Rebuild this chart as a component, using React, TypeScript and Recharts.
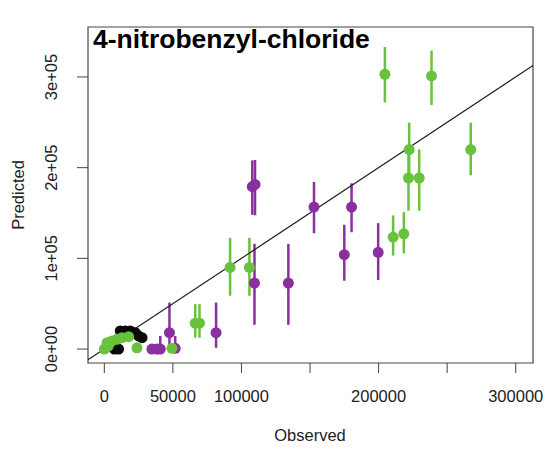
import React from 'react';
import { ScatterChart, Scatter, XAxis, YAxis, ErrorBar, ReferenceLine, ReferenceArea } from 'recharts';

// observed / predicted values with error bar extents (down, up)
const greenObs = [0, 2900, 2000, 5600, 9200, 12900, 17700, 23800, 49300, 66300, 69400, 91700, 105800, 204600, 238600, 222300, 221800, 229600, 267200, 210600, 218400];
const greenPred = [0, 3300, 7000, 8900, 10700, 12500, 13600, 1400, 800, 28500, 28500, 90000, 90000, 303000, 301200, 220000, 188600, 188600, 220000, 123300, 127000];
const greenDown = [2000, 2000, 2000, 2000, 2000, 2000, 2000, 2000, 3000, 16000, 16000, 31300, 31300, 31000, 32000, 28000, 36000, 36000, 28400, 20300, 21500];
const greenUp = [2000, 2000, 2000, 2000, 2000, 2000, 2000, 2000, 3000, 21000, 21000, 32600, 32600, 30000, 28000, 29500, 36000, 31400, 29500, 24000, 24000];

const purpleObs = [34700, 38400, 40800, 47500, 51700, 81500, 107900, 109900, 109500, 134200, 152900, 175000, 180300, 199700];
const purplePred = [0, 0, 0, 18000, 800, 18000, 179000, 181500, 72700, 72700, 156500, 104100, 156500, 106600];
const purpleDown = [2000, 2000, 2000, 18000, 800, 16600, 31000, 34000, 46000, 46000, 28800, 28800, 27700, 30500];
const purpleUp = [2000, 2000, 14400, 33300, 13600, 33300, 29000, 27000, 43300, 43300, 27700, 32900, 26200, 32200];

const blackObs = [11650, 15300, 18900, 22600, 25000, 27500, 10400, 7300];
const blackPred = [19900, 19900, 19900, 18000, 14400, 12500, 0, 0];
const blackErr = [2000, 2000, 2000, 2000, 2000, 2000, 2000, 2000];

const xTicks = [0, 50000, 100000, 150000, 200000, 250000, 300000];
const xHidden = [150000, 250000];
const yTicks = [0, 100000, 200000, 300000];
const yLabels = ['0e+00', '1e+05', '2e+05', '3e+05'];

const X_DOMAIN = [-11900, 312600];
const Y_DOMAIN = [-15400, 355100];

const GREEN = '#68c23e';
const PURPLE = '#8a2f9e';
const BLACK = '#0a0a0a';
const FONT = 'Liberation Sans, Arial, Helvetica, sans-serif';

const toPoints = (obs: number[], pred: number[], down: number[], up: number[]) =>
  obs.map((x, i) => ({ obs: x, pred: pred[i], err: [down[i], up[i]] }));

const greenData = toPoints(greenObs, greenPred, greenDown, greenUp);
const purpleData = toPoints(purpleObs, purplePred, purpleDown, purpleUp);
const blackData = toPoints(blackObs, blackPred, blackErr, blackErr);

const dot = (color: string) => (props: any) => (
  <circle cx={props.cx} cy={props.cy} r={5.5} fill={color} />
);

const YTick = (props: any) => {
  const { x, y, payload } = props;
  const idx = yTicks.indexOf(payload.value);
  return (
    <text
      transform={`translate(${x},${y}) rotate(-90)`}
      textAnchor="middle"
      fontSize={16.5}
      fontFamily={FONT}
      fill="#222"
    >
      {idx >= 0 ? yLabels[idx] : ''}
    </text>
  );
};

export default function App() {
  return (
    <div style={{ position: 'absolute', left: 0, top: 0, background: '#fff' }}>
      <ScatterChart width={549} height={450} margin={{ top: 27, right: 16, bottom: 0, left: 0 }}>
        <XAxis
          type="number"
          dataKey="obs"
          domain={X_DOMAIN}
          allowDataOverflow
          ticks={xTicks}
          interval={0}
          tickFormatter={(v: number) => (xHidden.includes(v) ? '' : String(v))}
          axisLine={false}
          tickLine={{ stroke: '#444' }}
          tickSize={10}
          tickMargin={17}
          height={87}
          tick={{ fontSize: 16.5, fontFamily: FONT, fill: '#222' }}
        />
        <YAxis
          type="number"
          dataKey="pred"
          domain={Y_DOMAIN}
          allowDataOverflow
          ticks={yTicks}
          interval={0}
          axisLine={false}
          tickLine={{ stroke: '#444' }}
          tickSize={11}
          tickMargin={20}
          width={88}
          tick={<YTick />}
        />
        <ReferenceArea
          x1={X_DOMAIN[0]}
          x2={X_DOMAIN[1]}
          y1={Y_DOMAIN[0]}
          y2={Y_DOMAIN[1]}
          fill="none"
          fillOpacity={0}
          stroke="#444"
          strokeWidth={1.2}
        />
        <Scatter data={purpleData} shape={dot(PURPLE)} isAnimationActive={false}>
          <ErrorBar dataKey="err" direction="y" width={0} stroke={PURPLE} strokeWidth={2.5} />
        </Scatter>
        <Scatter data={blackData} shape={dot(BLACK)} isAnimationActive={false}>
          <ErrorBar dataKey="err" direction="y" width={0} stroke={BLACK} strokeWidth={2.5} />
        </Scatter>
        <Scatter data={greenData} shape={dot(GREEN)} isAnimationActive={false}>
          <ErrorBar dataKey="err" direction="y" width={0} stroke={GREEN} strokeWidth={2.5} />
        </Scatter>
        <ReferenceLine
          segment={[
            { x: X_DOMAIN[0], y: X_DOMAIN[0] },
            { x: X_DOMAIN[1], y: X_DOMAIN[1] },
          ]}
          stroke="#222"
          strokeWidth={1.2}
        />
        <text x={93} y={48} fontSize={26.5} fontWeight="bold" fontFamily={FONT} fill="#000">
          4-nitrobenzyl-chloride
        </text>
        <text x={310} y={441} textAnchor="middle" fontSize={16.5} fontFamily={FONT} fill="#222">
          Observed
        </text>
        <text
          transform="translate(24,195) rotate(-90)"
          textAnchor="middle"
          fontSize={16.5}
          fontFamily={FONT}
          fill="#222"
        >
          Predicted
        </text>
      </ScatterChart>
    </div>
  );
}
